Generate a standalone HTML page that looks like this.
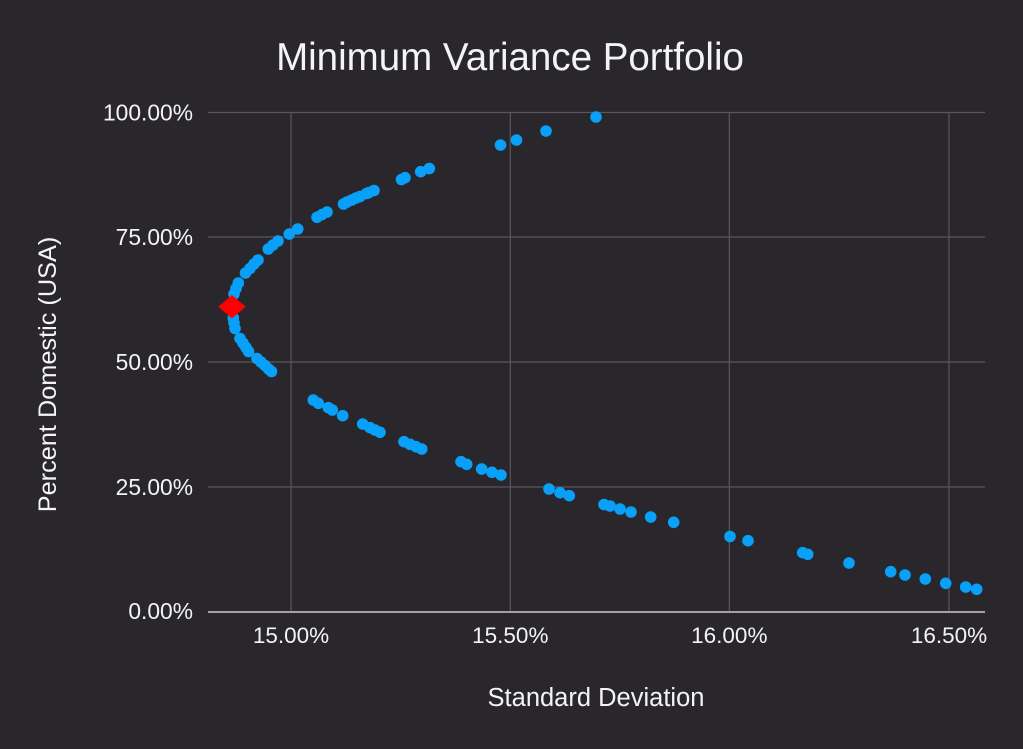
<!DOCTYPE html>
<html>
<head>
<meta charset="utf-8">
<style>
html,body{margin:0;padding:0;background:#29272c;}
svg{display:block;}
text{font-family:"Liberation Sans",Arial,sans-serif;fill:#f4f4f4;}
</style>
</head>
<body>
<svg width="1023" height="749" viewBox="0 0 1023 749" xmlns="http://www.w3.org/2000/svg">
<rect x="0" y="0" width="1023" height="749" fill="#29272c"/>
<text x="510" y="70" font-size="38.5" text-anchor="middle">Minimum Variance Portfolio</text>
<g stroke="#59575b" stroke-width="1.2">
<line x1="208" y1="112.5" x2="985" y2="112.5"/>
<line x1="208" y1="237" x2="985" y2="237"/>
<line x1="208" y1="362" x2="985" y2="362"/>
<line x1="208" y1="487" x2="985" y2="487"/>
<line x1="291" y1="112" x2="291" y2="611"/>
<line x1="510.3" y1="112" x2="510.3" y2="611"/>
<line x1="729.3" y1="112" x2="729.3" y2="611"/>
<line x1="949" y1="112" x2="949" y2="611"/>
</g>
<line x1="208" y1="612" x2="985" y2="612" stroke="#b4b4b6" stroke-width="1.8"/>
<g font-size="22.8" text-anchor="end">
<text x="193" y="120.5">100.00%</text>
<text x="193" y="245">75.00%</text>
<text x="193" y="370">50.00%</text>
<text x="193" y="495">25.00%</text>
<text x="193" y="619">0.00%</text>
</g>
<g font-size="22.5" text-anchor="middle">
<text x="291" y="643">15.00%</text>
<text x="510.3" y="643">15.50%</text>
<text x="729.3" y="643">16.00%</text>
<text x="949" y="643">16.50%</text>
</g>
<text x="596" y="706" font-size="25.5" text-anchor="middle">Standard Deviation</text>
<text transform="translate(56,374.5) rotate(-90)" font-size="25.3" text-anchor="middle">Percent Domestic (USA)</text>
<g fill="#08a0f8">
<circle cx="596" cy="117" r="5.8"/>
<circle cx="546" cy="131" r="5.8"/>
<circle cx="516.5" cy="140" r="5.8"/>
<circle cx="500.5" cy="145" r="5.8"/>
<circle cx="429.3" cy="168.5" r="5.8"/>
<circle cx="420.7" cy="171.7" r="5.8"/>
<circle cx="405" cy="177.7" r="5.8"/>
<circle cx="401.5" cy="179.5" r="5.8"/>
<circle cx="374" cy="190.5" r="5.8"/>
<circle cx="369" cy="192.5" r="5.8"/>
<circle cx="366.5" cy="193.5" r="5.8"/>
<circle cx="360" cy="196.5" r="5.8"/>
<circle cx="356" cy="198" r="5.8"/>
<circle cx="351.7" cy="200" r="5.8"/>
<circle cx="347" cy="202" r="5.8"/>
<circle cx="343.5" cy="204" r="5.8"/>
<circle cx="327" cy="212" r="5.8"/>
<circle cx="322" cy="214.5" r="5.8"/>
<circle cx="317" cy="217.3" r="5.8"/>
<circle cx="297.7" cy="229" r="5.8"/>
<circle cx="289.3" cy="234" r="5.8"/>
<circle cx="278" cy="241" r="5.8"/>
<circle cx="273" cy="245" r="5.8"/>
<circle cx="268.3" cy="249" r="5.8"/>
<circle cx="258" cy="260" r="5.8"/>
<circle cx="254" cy="264" r="5.8"/>
<circle cx="250" cy="268.5" r="5.8"/>
<circle cx="245.5" cy="273" r="5.8"/>
<circle cx="238.3" cy="283" r="5.8"/>
<circle cx="236" cy="288.5" r="5.8"/>
<circle cx="234" cy="294" r="5.8"/>
<circle cx="233.3" cy="318" r="5.8"/>
<circle cx="234" cy="323" r="5.8"/>
<circle cx="235" cy="328.5" r="5.8"/>
<circle cx="240" cy="338.5" r="5.8"/>
<circle cx="243" cy="343" r="5.8"/>
<circle cx="246" cy="347.5" r="5.8"/>
<circle cx="248.5" cy="351.5" r="5.8"/>
<circle cx="257" cy="358.5" r="5.8"/>
<circle cx="261" cy="362" r="5.8"/>
<circle cx="265" cy="365.5" r="5.8"/>
<circle cx="268.5" cy="369" r="5.8"/>
<circle cx="271.5" cy="371.5" r="5.8"/>
<circle cx="313.3" cy="400" r="5.8"/>
<circle cx="318.3" cy="403.3" r="5.8"/>
<circle cx="328.3" cy="407.7" r="5.8"/>
<circle cx="332.3" cy="410" r="5.8"/>
<circle cx="342.7" cy="415.7" r="5.8"/>
<circle cx="362.7" cy="424" r="5.8"/>
<circle cx="370" cy="427.7" r="5.8"/>
<circle cx="375" cy="430" r="5.8"/>
<circle cx="380" cy="432.3" r="5.8"/>
<circle cx="404" cy="441.7" r="5.8"/>
<circle cx="410" cy="444.3" r="5.8"/>
<circle cx="416" cy="446.7" r="5.8"/>
<circle cx="421.7" cy="449" r="5.8"/>
<circle cx="461" cy="461.7" r="5.8"/>
<circle cx="466.7" cy="464.3" r="5.8"/>
<circle cx="481.7" cy="469" r="5.8"/>
<circle cx="492" cy="472.3" r="5.8"/>
<circle cx="501" cy="475" r="5.8"/>
<circle cx="549" cy="489" r="5.8"/>
<circle cx="560" cy="492.7" r="5.8"/>
<circle cx="569.3" cy="495.7" r="5.8"/>
<circle cx="604" cy="504.5" r="5.8"/>
<circle cx="610" cy="506" r="5.8"/>
<circle cx="620" cy="509" r="5.8"/>
<circle cx="631" cy="512" r="5.8"/>
<circle cx="650.7" cy="517" r="5.8"/>
<circle cx="673.7" cy="522.3" r="5.8"/>
<circle cx="730" cy="536.5" r="5.8"/>
<circle cx="748" cy="540.7" r="5.8"/>
<circle cx="802.7" cy="552.7" r="5.8"/>
<circle cx="807.7" cy="554.3" r="5.8"/>
<circle cx="849" cy="563" r="5.8"/>
<circle cx="890.7" cy="571.7" r="5.8"/>
<circle cx="905" cy="575" r="5.8"/>
<circle cx="925.3" cy="579" r="5.8"/>
<circle cx="945.7" cy="583.3" r="5.8"/>
<circle cx="965.7" cy="587" r="5.8"/>
<circle cx="976.7" cy="589.3" r="5.8"/>
</g>
<polygon points="218.3,306.7 232,295 245.7,306.7 232,318.4" fill="#ff0000"/>
</svg>
</body>
</html>
